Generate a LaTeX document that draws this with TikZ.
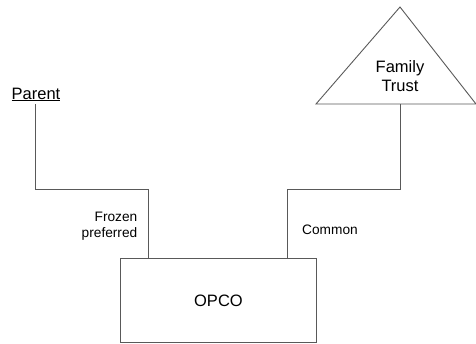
\documentclass[tikz,border=0pt]{standalone}
\usepackage{fontspec}
\setmainfont{Liberation Sans}
\begin{document}
\begin{tikzpicture}[x=1pt,y=-1pt,
  conn/.style={draw=black!65, line width=0.9pt},
  big/.style={font=\fontsize{16.5}{19}\selectfont, inner sep=0pt},
  small/.style={font=\fontsize{13.7}{16.5}\selectfont, inner sep=0pt}]
\useasboundingbox (0,0) rectangle (476,343);
% Family Trust triangle
\coordinate (apex) at (400,7);
\coordinate (tl) at (316,104);
\coordinate (tr) at (476,104);
\coordinate (tbot) at (400,104);
\draw[conn] (tl) -- (apex) -- (tr) -- cycle;
\node[big, align=center] (trust) at (400,76) {Family\\Trust};
% Parent
\node[big, anchor=base] (parent) at (36,99) {\underline{Parent}};
\coordinate (pbot) at (35.7,104);
% OPCO
\node[big, draw=black!65, line width=0.9pt, minimum width=196pt, minimum height=84pt, anchor=north west] (opco) at (120,258) {};
\node[big] (opcot) at (opco.center) {OPCO};
\coordinate (ol) at (148,258);
\coordinate (or) at (287,258);
% connectors
\draw[conn] (pbot) |- (148,189) -- (ol);
\draw[conn] (tbot) |- (287,189) -- (or);
% labels
\node[small, align=right, anchor=east] (frozen) at (137.5,226) {Frozen\\preferred};
\node[small, anchor=west] (common) at (302,230) {Common};
\end{tikzpicture}
\end{document}
